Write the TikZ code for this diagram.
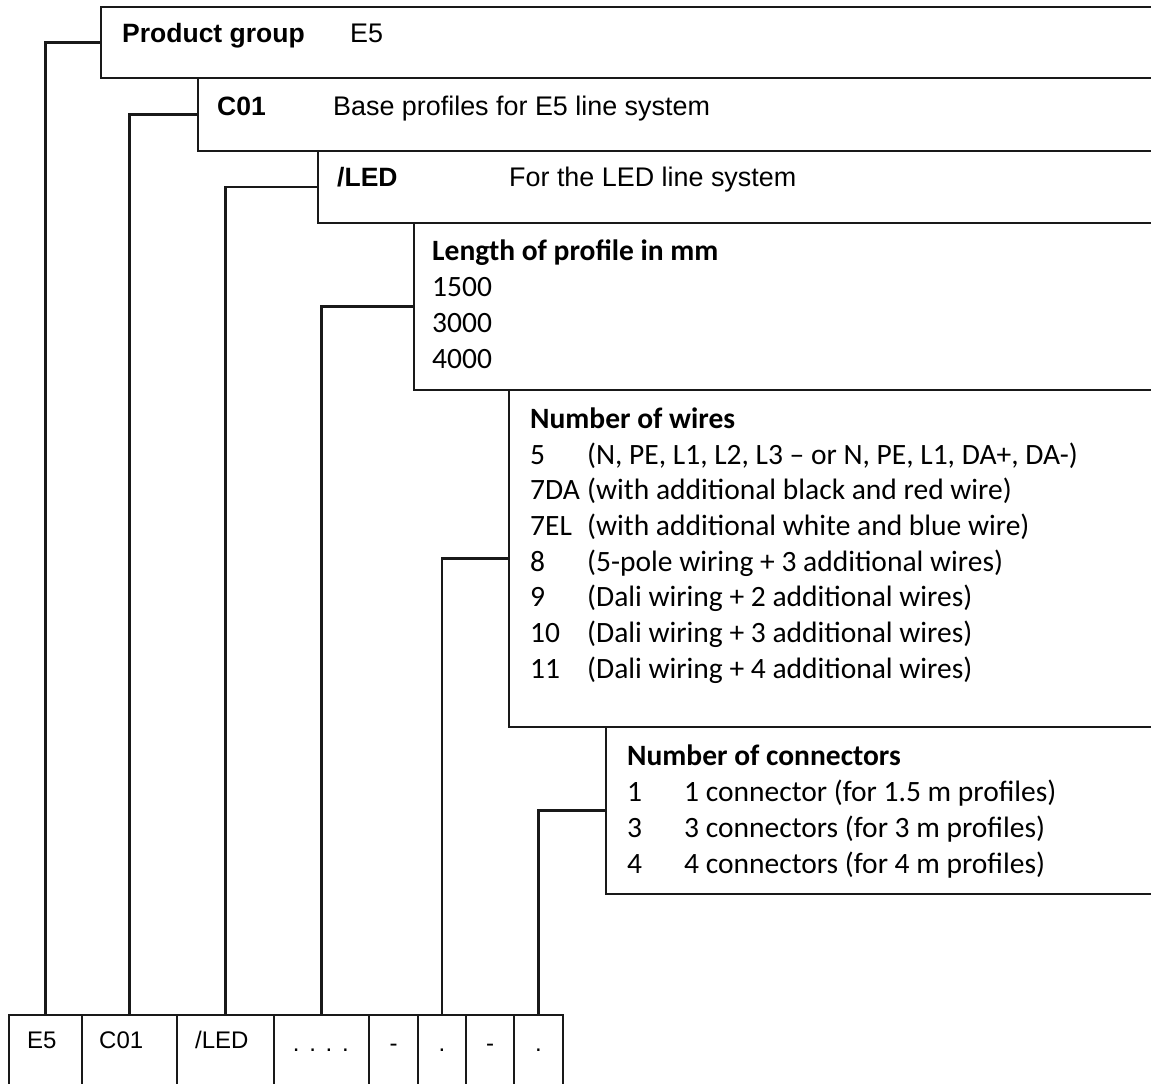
\documentclass[tikz,border=0pt]{standalone}
\usepackage{fontspec}
\setmainfont{Liberation Sans}
\newfontfamily\calfont{Carlito}
\usepackage{tikz}

\newcommand{\keycol}[1]{\makebox[57pt][l]{#1}}

\tikzset{
  box/.style={draw=black!90, line width=2.2pt, anchor=north west, minimum width=1200pt, inner sep=0pt, outer sep=0pt},
  cell/.style={draw=black!90, line width=2.2pt, anchor=north west, minimum height=100pt, inner sep=0pt, outer sep=0pt},
  wire/.style={draw=black!90, line width=2.2pt},
  arl/.style={anchor=base west, inner sep=0pt, font=\fontsize{26.9}{30}\selectfont},
  arlb/.style={anchor=base west, inner sep=0pt, font=\fontsize{26.5}{30}\selectfont\bfseries},
  cal/.style={anchor=base west, inner sep=0pt, font=\calfont\fontsize{29.5}{34}\selectfont},
  calb/.style={anchor=base west, inner sep=0pt, font=\calfont\fontsize{29.5}{34}\selectfont\bfseries},
  ctxt/.style={anchor=base west, inner sep=0pt, font=\fontsize{24}{28}\selectfont}
}

\begin{document}
\begin{tikzpicture}[x=1pt, y=-1pt]
    \useasboundingbox (0,0) rectangle (1151,1084);
    \clip (0,0) rectangle (1151,1084);

    % Product group
    \node[box, minimum height=71pt] (grp) at (101,7) {};
    \node[arlb] (grpT) at (122,42) {Product group};
    \node[arl] (grpV) at (350,42) {E5};

    % Base profiles
    \node[box, minimum height=73pt] (base) at (198,78) {};
    \node[arlb] (baseT) at (217,115) {C01};
    \node[arl] (baseV) at (333,115) {Base profiles for E5 line system};

    % LED line
    \node[box, minimum height=72pt] (led) at (318,151) {};
    \node[arlb] (ledT) at (337,186) {/LED};
    \node[arl] (ledV) at (509,186) {For the LED line system};

    % Length
    \node[box, minimum height=167pt] (len) at (414,223) {};
    \node[calb] (lenT) at (432,260) {Length of profile in mm};
    \node[cal] (len1) at (432,296) {1500};
    \node[cal] (len2) at (432,332) {3000};
    \node[cal] (len3) at (432,368) {4000};

    % Wires
    \node[box, minimum height=337pt] (wir) at (509,390) {};
    \node[calb] (wirT) at (530,428) {Number of wires};
    \node[cal] (wir1) at (530,464) {\keycol{5}(N, PE, L1, L2, L3 – or N, PE, L1, DA+, DA-)};
    \node[cal] (wir2) at (530,499.5) {\keycol{7DA}(with additional black and red wire)};
    \node[cal] (wir3) at (530,535) {\keycol{7EL}(with additional white and blue wire)};
    \node[cal] (wir4) at (530,571) {\keycol{8}(5-pole wiring + 3 additional wires)};
    \node[cal] (wir5) at (530,606.5) {\keycol{9}(Dali wiring + 2 additional wires)};
    \node[cal] (wir6) at (530,642) {\keycol{10}(Dali wiring + 3 additional wires)};
    \node[cal] (wir7) at (530,678) {\keycol{11}(Dali wiring + 4 additional wires)};

    % Connectors
    \node[box, minimum height=167pt] (con) at (606,727) {};
    \node[calb] (conT) at (627,765) {Number of connectors};
    \node[cal] (con1) at (627,801) {\keycol{1}1 connector (for 1.5 m profiles)};
    \node[cal] (con2) at (627,837) {\keycol{3}3 connectors (for 3 m profiles)};
    \node[cal] (con3) at (627,873) {\keycol{4}4 connectors (for 4 m profiles)};

    % Order code row
    \node[cell, minimum width=73pt] (cE5) at (9,1015) {};
    \node[cell, minimum width=95pt] (cC01) at (cE5.north east) {};
    \node[cell, minimum width=97pt] (cLED) at (cC01.north east) {};
    \node[cell, minimum width=95pt] (cLen) at (cLED.north east) {};
    \node[cell, minimum width=49pt] (cSep1) at (cLen.north east) {};
    \node[cell, minimum width=48pt] (cWir) at (cSep1.north east) {};
    \node[cell, minimum width=48pt] (cSep2) at (cWir.north east) {};
    \node[cell, minimum width=49pt] (cCon) at (cSep2.north east) {};

    \node[ctxt] (tE5) at (27,1048) {E5};
    \node[ctxt] (tC01) at (99,1048) {C01};
    \node[ctxt] (tLED) at (195,1048) {/LED};
    \node[ctxt] (tLen) at (292.7,1051) {.\hspace{9.7pt}.\hspace{9.7pt}.\hspace{9.7pt}.};
    \node[ctxt, anchor=base] (tSep1) at (393.5,1051) {-};
    \node[ctxt, anchor=base] (tWir) at (442,1051) {.};
    \node[ctxt, anchor=base] (tSep2) at (490,1051) {-};
    \node[ctxt, anchor=base] (tCon) at (538.5,1051) {.};

    % leader lines
    \draw[wire] (grp.west) -| (cE5.north);
    \draw[wire] (base.west) -| (cC01.north);
    \draw[wire] (led.west) -| (cLED.north);
    \draw[wire] (len.west) -| (cLen.north);
    \draw[wire] (wir.west) -| (cWir.north);
    \draw[wire] (con.west) -| (cCon.north);
\end{tikzpicture}
\end{document}
